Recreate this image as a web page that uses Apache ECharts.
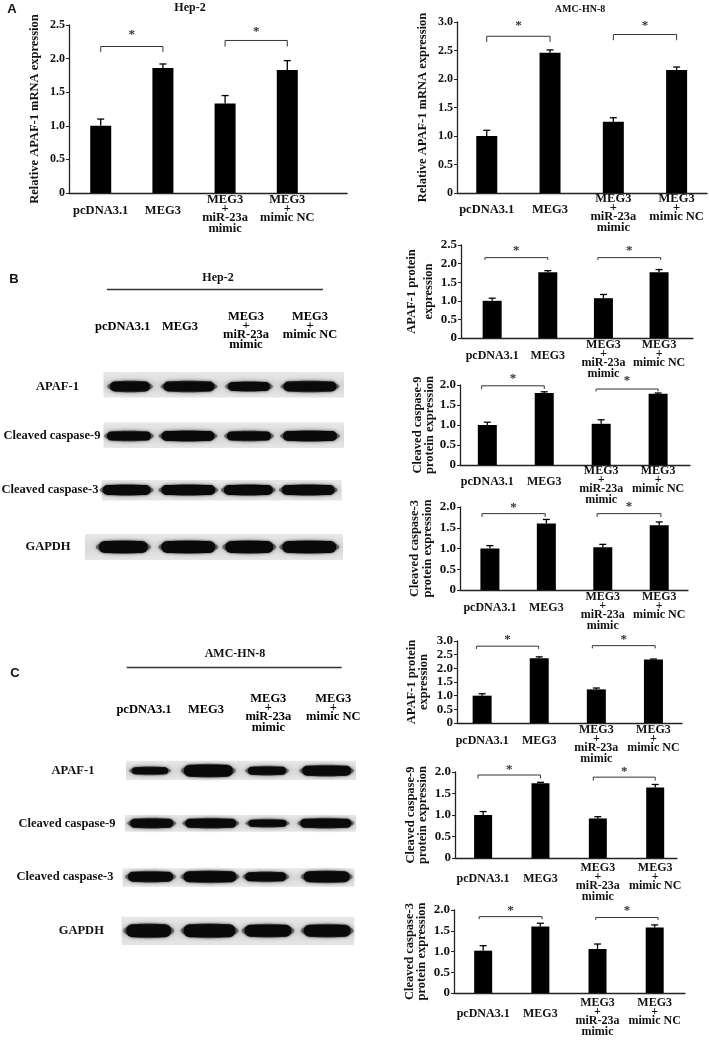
<!DOCTYPE html>
<html lang="en">
<head>
<meta charset="UTF-8">
<script src="https://cdn.jsdelivr.net/npm/echarts@6/dist/echarts.min.js"></script>
<style>
  html, body { margin: 0; padding: 0; background: #fff; }
  #main { width: 709px; height: 1043px; }
</style>
</head>
<body>
<div id="main"></div>
<script>
var groups = ['pcDNA3.1', 'MEG3', 'MEG3\n+\nmiR-23a\nmimic', 'MEG3\n+\nmimic NC'];

// A: relative APAF-1 mRNA
var hep2Mrna = [1.00, 1.86, 1.33, 1.83];
var hep2MrnaErr = [0.10, 0.06, 0.12, 0.14];
var amcMrna = [1.00, 2.46, 1.25, 2.16];
var amcMrnaErr = [0.10, 0.05, 0.07, 0.05];
// B: Hep-2 protein
var hep2Apaf = [1.00, 1.77, 1.07, 1.77];
var hep2ApafErr = [0.07, 0.04, 0.10, 0.07];
var hep2Casp9 = [1.00, 1.80, 1.03, 1.78];
var hep2Casp9Err = [0.07, 0.03, 0.10, 0.02];
var hep2Casp3 = [1.00, 1.60, 1.03, 1.56];
var hep2Casp3Err = [0.07, 0.10, 0.07, 0.08];
// C: AMC-HN-8 protein
var amcApaf = [1.00, 2.37, 1.23, 2.32];
var amcApafErr = [0.07, 0.05, 0.05, 0.02];
var amcCasp9 = [1.00, 1.74, 0.92, 1.64];
var amcCasp9Err = [0.08, 0.02, 0.04, 0.07];
var amcCasp3 = [1.02, 1.60, 1.06, 1.58];
var amcCasp3Err = [0.12, 0.08, 0.12, 0.06];

// significance brackets: [from, to, line, tick end, star]
var hep2MrnaSig = [[0, 1, 2.18, 2.10, 2.35], [2, 3, 2.27, 2.18, 2.40]];
var amcMrnaSig = [[0, 1, 2.75, 2.65, 2.94], [2, 3, 2.78, 2.68, 2.94]];
var hep2ApafSig = [[-0.13, 1, 2.16, 2.10, 2.34], [1.9, 3.03, 2.16, 2.10, 2.36]];
var hep2Casp9Sig = [[-0.1, 1, 1.98, 1.90, 2.16], [1.91, 3.0, 1.90, 1.84, 2.10]];
var hep2Casp3Sig = [[-0.14, 0.98, 1.84, 1.76, 1.98], [1.9, 3.03, 1.84, 1.76, 2.00]];
var amcApafSig = [[-0.1, 0.99, 2.81, 2.71, 3.05], [1.93, 3.03, 2.83, 2.73, 3.05]];
var amcCasp9Sig = [[-0.09, 1.0, 1.93, 1.85, 2.06], [1.92, 3.0, 1.88, 1.80, 2.00]];
var amcCasp3Sig = [[-0.07, 1.03, 1.84, 1.78, 1.98], [1.97, 3.06, 1.82, 1.76, 1.98]];

var serif = '"Liberation Serif", "Times New Roman", serif';
var ink = '#111';

var panels = [
  {vals: hep2Mrna, err: hep2MrnaErr, sig: hep2MrnaSig, name: 'Relative APAF-1 mRNA expression',
   ymax: 2.5, left: 69, top: 25, width: 278, height: 168, xmin: -0.51, xmax: 3.96, barW: 21, gap: 27, nlh: 14, fs: 12.5, lm: 2},
  {vals: amcMrna, err: amcMrnaErr, sig: amcMrnaSig, name: 'Relative APAF-1 mRNA expression',
   ymax: 3.0, left: 457, top: 22, width: 250, height: 171, xmin: -0.47, xmax: 3.48, barW: 21, gap: 27, nlh: 14, fs: 12.5, lm: 1},
  {vals: hep2Apaf, err: hep2ApafErr, sig: hep2ApafSig, name: 'APAF-1 protein\nexpression',
   ymax: 2.5, left: 461, top: 245, width: 232, height: 93, xmin: -0.56, xmax: 3.61, barW: 19, gap: 24, nlh: 17, fs: 12, lm: 2},
  {vals: hep2Casp9, err: hep2Casp9Err, sig: hep2Casp9Sig, name: 'Cleaved caspase-9\nprotein expression',
   ymax: 2.0, left: 460, top: 385, width: 230, height: 80, xmin: -0.48, xmax: 3.56, barW: 19, gap: 24, nlh: 11.5, fs: 12, lm: 1},
  {vals: hep2Casp3, err: hep2Casp3Err, sig: hep2Casp3Sig, name: 'Cleaved caspase-3\nprotein expression',
   ymax: 2.0, left: 460, top: 507, width: 228, height: 83, xmin: -0.53, xmax: 3.51, barW: 19, gap: 26, nlh: 13, fs: 12, lm: 2},
  {vals: amcApaf, err: amcApafErr, sig: amcApafSig, name: 'APAF-1 protein\nexpression',
   ymax: 3.0, left: 457, top: 641, width: 225, height: 82, xmin: -0.44, xmax: 3.5, barW: 19, gap: 27, nlh: 12, fs: 12, lm: 2},
  {vals: amcCasp9, err: amcCasp9Err, sig: amcCasp9Sig, name: 'Cleaved caspase-9\nprotein expression',
   ymax: 2.0, left: 455, top: 772, width: 222, height: 86, xmin: -0.49, xmax: 3.38, barW: 18, gap: 26, nlh: 12, fs: 12, lm: 5},
  {vals: amcCasp3, err: amcCasp3Err, sig: amcCasp3Sig, name: 'Cleaved caspase-3\nprotein expression',
   ymax: 2.0, left: 454, top: 910, width: 231, height: 83, xmin: -0.51, xmax: 3.53, barW: 18, gap: 26, nlh: 12, fs: 12, lm: 5}
];

function labelRich(fs) {
  var base = {fontSize: fs, fontWeight: 'bold', fontFamily: serif, color: ink};
  return {
    a: Object.assign({lineHeight: 10.5}, base),
    p: Object.assign({lineHeight: 7.5}, base),
    e: Object.assign({lineHeight: 10.5}, base)
  };
}
function labelText(s) {
  var parts = s.split('\n');
  if (parts.length === 1) return '{e| }\n{a|' + s + '}';
  return parts.map(function (t) { return t === '+' ? '{p|+}' : '{a|' + t + '}'; }).join('\n');
}

function renderErr(params, api) {
  var x = api.value(0), v = api.value(1), e = api.value(2);
  var p0 = api.coord([x, v]), p1 = api.coord([x, v + e]);
  var cap = 3.5;
  return {type: 'group', children: [
    {type: 'line', shape: {x1: p0[0], y1: p0[1], x2: p1[0], y2: p1[1]}, style: {stroke: '#000', lineWidth: 1.3}},
    {type: 'line', shape: {x1: p1[0] - cap, y1: p1[1], x2: p1[0] + cap, y2: p1[1]}, style: {stroke: '#000', lineWidth: 1.3}}
  ]};
}
function renderSig(params, api) {
  var a = api.coord([api.value(0), api.value(2)]);
  var b = api.coord([api.value(1), api.value(2)]);
  var t = api.coord([api.value(0), api.value(3)]);
  var s = api.coord([(api.value(0) + api.value(1)) / 2, api.value(4)]);
  return {type: 'group', children: [
    {type: 'polyline', shape: {points: [[a[0], t[1]], a, b, [b[0], t[1]]]}, style: {stroke: '#333', lineWidth: 1, fill: null}},
    {type: 'text', x: s[0], y: s[1], style: {text: '*', font: 'bold 13px ' + serif, fill: '#333', align: 'center', verticalAlign: 'middle'}}
  ]};
}

var grid = [], xAxis = [], yAxis = [], series = [];
panels.forEach(function (p, i) {
  grid.push({left: p.left, top: p.top, width: p.width, height: p.height});
  xAxis.push({
    gridIndex: i, type: 'value', min: p.xmin, max: p.xmax,
    axisLine: {show: true, onZero: false, lineStyle: {color: '#222', width: 1.3}},
    axisTick: {show: false}, splitLine: {show: false},
    axisLabel: {
      customValues: [0, 1, 2, 3], margin: p.lm, verticalAlign: 'top',
      formatter: function (v) { var s = groups[Math.round(v)]; return s ? labelText(s) : ''; },
      rich: labelRich(p.fs)
    }
  });
  yAxis.push({
    gridIndex: i, type: 'value', min: 0, max: p.ymax, interval: 0.5,
    axisLine: {show: true, onZero: false, lineStyle: {color: '#222', width: 1.3}},
    axisTick: {show: true, length: 3, lineStyle: {color: '#222'}},
    splitLine: {show: false},
    axisLabel: {
      margin: 4, fontSize: i < 2 ? 12 : 13, fontWeight: 'bold', fontFamily: serif, color: ink,
      formatter: function (v) { return v === 0 ? '0' : v.toFixed(1); }
    },
    name: p.name, nameLocation: 'middle', nameGap: p.gap, nameRotate: 90,
    nameTextStyle: {fontSize: 12.5, fontWeight: 'bold', fontFamily: serif, color: ink, lineHeight: p.nlh}
  });
  series.push({
    type: 'bar', xAxisIndex: i, yAxisIndex: i, barWidth: p.barW,
    itemStyle: {color: '#000'}, silent: true,
    data: p.vals.map(function (v, k) { return [k, v]; })
  });
  series.push({
    type: 'custom', xAxisIndex: i, yAxisIndex: i, z: 3, silent: true,
    renderItem: renderErr, encode: {x: 0, y: [1, 2]},
    data: p.vals.map(function (v, k) { return [k, v, p.err[k]]; })
  });
  series.push({
    type: 'custom', xAxisIndex: i, yAxisIndex: i, z: 3, silent: true,
    renderItem: renderSig, encode: {x: [0, 1], y: [2, 3, 4]},
    data: p.sig
  });
});

// western blot images (left column)
var blotHep2 = [
  {label: 'APAF-1', lx: 57.5, box: [103.5, 372, 344, 397.5], y: 386.5,
   c: [130, 189, 249, 310], w: [44, 55, 46, 57], t: [10, 10, 9, 10]},
  {label: 'Cleaved caspase-9', lx: 52, box: [103.5, 422.5, 344, 448], y: 436,
   c: [129, 188, 249, 310], w: [48, 57, 48, 58], t: [9, 10, 9, 10]},
  {label: 'Cleaved caspase-3', lx: 50, box: [101.7, 480, 341.7, 500.5], y: 490,
   c: [126.7, 188.3, 248.3, 308.3], w: [52, 58, 53, 57], t: [10, 10, 10, 10]},
  {label: 'GAPDH', lx: 48, box: [85, 534, 343, 560], y: 547,
   c: [123.3, 188.3, 249.3, 309.3], w: [53, 58, 52, 58], t: [12, 12, 12, 12]}
];
var blotAmc = [
  {label: 'APAF-1', lx: 73, box: [126, 760.7, 356, 780], y: 770.7,
   c: [150, 208.3, 267, 326.7], w: [40, 53, 42, 53], t: [7, 12, 8, 10]},
  {label: 'Cleaved caspase-9', lx: 67, box: [125, 815, 356, 831.7], y: 823.3,
   c: [151.7, 210.8, 267.5, 325.8], w: [47, 55, 42, 55], t: [9, 9, 7, 9]},
  {label: 'Cleaved caspase-3', lx: 65, box: [122.7, 868.3, 354.3, 886.7], y: 876.7,
   c: [150.5, 210, 265.8, 326.7], w: [49, 57, 45, 50], t: [10, 11, 9, 11]},
  {label: 'GAPDH', lx: 81.3, box: [121.7, 916.7, 354.3, 945], y: 930.7,
   c: [148.7, 209.5, 268, 327.2], w: [49, 56, 51, 51], t: [13, 13, 12, 12]}
];

var graphic = [];
function txt(s, x, y, font, extra) {
  graphic.push({type: 'text', x: x, y: y, silent: true,
    style: Object.assign({text: s, font: font, fill: ink, align: 'center', verticalAlign: 'middle'}, extra || {})});
}
function blot(rows) {
  rows.forEach(function (r) {
    graphic.push({type: 'rect', silent: true,
      shape: {x: r.box[0], y: r.box[1], width: r.box[2] - r.box[0], height: r.box[3] - r.box[1]},
      style: {fill: new echarts.graphic.LinearGradient(0, 0, 0, 1, [
        {offset: 0, color: '#e8e8e8'}, {offset: 0.5, color: '#d8d8d8'}, {offset: 1, color: '#e6e6e6'}])}});
    r.c.forEach(function (cx, k) {
      var w = r.w[k], t = r.t[k];
      graphic.push({type: 'ellipse', silent: true,
        shape: {cx: cx, cy: r.y, rx: w / 2 + 1, ry: t / 2 + 1},
        style: {fill: 'rgba(40,40,40,0.55)', shadowBlur: 4, shadowColor: 'rgba(0,0,0,0.5)'}});
      graphic.push({type: 'rect', silent: true,
        shape: {x: cx - w / 2 + 2, y: r.y - t / 2, width: w - 4, height: t, r: t / 2},
        style: {fill: '#0a0a0a', shadowBlur: 2.5, shadowColor: 'rgba(0,0,0,0.7)'}});
    });
    txt(r.label, r.lx, r.y, 'bold 12.5px ' + serif);
  });
}
function columnHeads(xs, y) {
  xs.forEach(function (cx, k) {
    graphic.push({type: 'text', x: cx, y: y, silent: true,
      style: {text: labelText(groups[k]), align: 'center', verticalAlign: 'top', rich: labelRich(12.5)}});
  });
}

// panel letters and titles
txt('A', 12, 9, 'bold 13px "Liberation Sans", Arial, sans-serif');
txt('B', 14, 279, 'bold 13px "Liberation Sans", Arial, sans-serif');
txt('C', 15, 673, 'bold 13px "Liberation Sans", Arial, sans-serif');
txt('Hep-2', 190, 8, 'bold 12px ' + serif);
txt('AMC-HN-8', 580, 9, 'bold 10px ' + serif);

txt('Hep-2', 218, 278, 'bold 12px ' + serif);
graphic.push({type: 'line', silent: true, shape: {x1: 107, y1: 289.5, x2: 323, y2: 289.5}, style: {stroke: '#333', lineWidth: 1.5}});
columnHeads([122.7, 180, 246, 310], 311.5);
blot(blotHep2);

txt('AMC-HN-8', 235, 653.5, 'bold 12px ' + serif);
graphic.push({type: 'line', silent: true, shape: {x1: 126.7, y1: 667.5, x2: 341.7, y2: 667.5}, style: {stroke: '#333', lineWidth: 1.5}});
columnHeads([144, 206, 268.3, 333.3], 694);
blot(blotAmc);

var myChart = echarts.init(document.getElementById('main'));
myChart.setOption({
  backgroundColor: '#fff',
  animation: false,
  grid: grid, xAxis: xAxis, yAxis: yAxis, series: series,
  graphic: graphic
});
</script>
</body>
</html>
